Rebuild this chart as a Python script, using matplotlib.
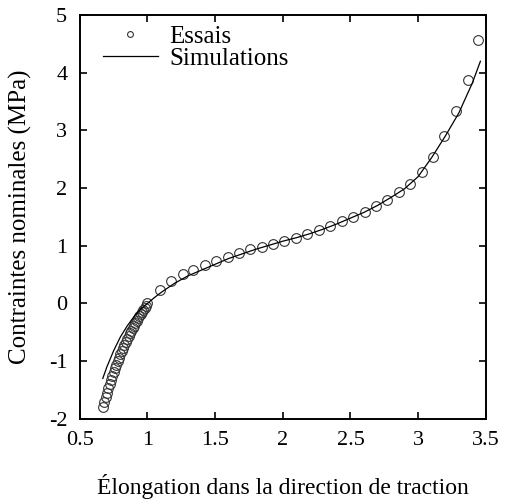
import matplotlib
matplotlib.use('Agg')
import matplotlib.pyplot as plt

plt.rcParams['font.family'] = ['Liberation Serif', 'DejaVu Serif']
plt.rcParams['axes.unicode_minus'] = False

# Essais (experimental points)
essais_x = [0.67, 0.68, 0.69, 0.70, 0.71, 0.72, 0.73, 0.74, 0.75, 0.76, 0.77, 0.78,
            0.79, 0.80, 0.81, 0.82, 0.83, 0.84, 0.85, 0.86, 0.87, 0.88, 0.89, 0.90,
            0.91, 0.92, 0.93, 0.94, 0.95, 0.96, 0.97, 0.98, 0.99, 1.00,
            1.09, 1.175, 1.26, 1.34, 1.425, 1.51, 1.595, 1.68, 1.76, 1.845, 1.93, 2.01,
            2.095, 2.18, 2.265, 2.35, 2.435, 2.52, 2.605, 2.69, 2.77, 2.855, 2.94, 3.025,
            3.11, 3.19, 3.28, 3.365, 3.445]
essais_y = [-1.80, -1.71, -1.63, -1.55, -1.47, -1.40, -1.32, -1.26, -1.19, -1.12, -1.06, -1.00,
            -0.94, -0.88, -0.83, -0.77, -0.72, -0.67, -0.62, -0.57, -0.52, -0.48, -0.43, -0.39,
            -0.34, -0.30, -0.26, -0.22, -0.18, -0.14, -0.11, -0.07, -0.04, 0.00,
            0.235, 0.39, 0.51, 0.58, 0.66, 0.74, 0.80, 0.87, 0.94, 0.985, 1.03, 1.08,
            1.13, 1.20, 1.28, 1.35, 1.43, 1.505, 1.585, 1.69, 1.795, 1.935, 2.07, 2.28,
            2.54, 2.90, 3.33, 3.875, 4.57]

# Simulations (model curve)
simu_x = [0.67, 0.70, 0.75, 0.80, 0.85, 0.90, 0.95, 1.00, 1.05, 1.10, 1.20, 1.30,
          1.40, 1.50, 1.60, 1.70, 1.80, 1.90, 2.00, 2.10, 2.20, 2.30, 2.40, 2.50,
          2.60, 2.70, 2.80, 2.90, 3.00, 3.10, 3.20, 3.30, 3.40, 3.46]
simu_y = [-1.30, -1.10, -0.82, -0.58, -0.39, -0.23, -0.10, 0.00, 0.10, 0.19, 0.35, 0.48,
          0.58, 0.68, 0.78, 0.86, 0.94, 1.01, 1.08, 1.14, 1.21, 1.29, 1.38, 1.48,
          1.58, 1.70, 1.84, 1.99, 2.20, 2.53, 2.90, 3.30, 3.82, 4.20]

fig = plt.figure(figsize=(5.05, 5.04), dpi=100)
ax = fig.add_axes([0.158, 0.169, 0.804, 0.801])

ax.plot(essais_x, essais_y, linestyle='none', marker='o', markersize=7,
        markerfacecolor='none', markeredgecolor='#333333', markeredgewidth=0.8,
        label='Essais')
ax.plot(simu_x, simu_y, color='black', linewidth=0.9, label='Simulations')

ax.set_xlim(0.5, 3.5)
ax.set_ylim(-2, 5)
ax.set_xticks([0.5, 1, 1.5, 2, 2.5, 3, 3.5])
ax.set_xticklabels(['0.5', '1', '1.5', '2', '2.5', '3', '3.5'])
ax.set_yticks([-2, -1, 0, 1, 2, 3, 4, 5])
ax.tick_params(direction='in', top=True, right=True, length=5, width=1.2,
               labelsize=16)
ax.tick_params(axis='x', pad=9)
ax.tick_params(axis='y', pad=9)
for s in ax.spines.values():
    s.set_linewidth(1.4)

ax.set_xlabel('Élongation dans la direction de traction', fontsize=17, labelpad=17)
ax.set_ylabel('Contraintes nominales (MPa)', fontsize=18, labelpad=12)

ax.legend(loc='upper left', frameon=False, fontsize=18, handlelength=2.2,
          borderaxespad=0.0, borderpad=0.0, handletextpad=0.45, labelspacing=0.0,
          markerscale=0.6, bbox_to_anchor=(0.057, 0.975))

fig.savefig('out.png', dpi=100)
